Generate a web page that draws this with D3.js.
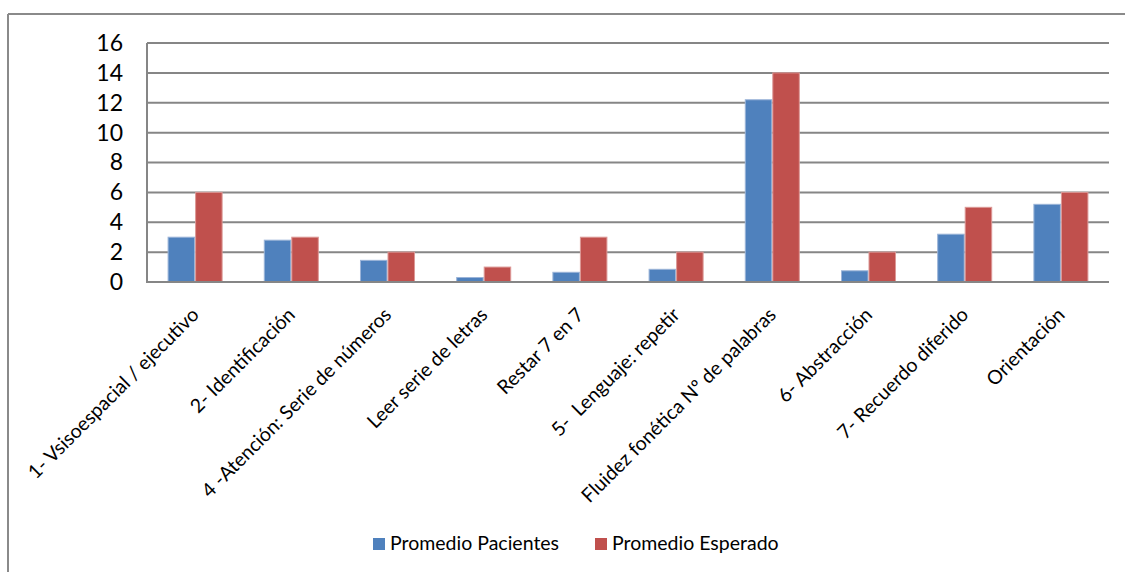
<!DOCTYPE html>
<html>
<head>
<meta charset="utf-8">
<script src="https://cdn.jsdelivr.net/npm/d3@7"></script>
<style>
  html, body { margin: 0; padding: 0; background: #fff; }
  svg { display: block; font-family: Lato, "Open Sans", sans-serif; }
</style>
</head>
<body>
<svg id="chart" width="1125" height="572"></svg>
<script>
// Subtest names of the cognitive assessment
const categories = [
  "1- Vsisoespacial / ejecutivo",
  "2- Identificación",
  "4 -Atención: Serie de números",
  "Leer serie de letras",
  "Restar 7 en 7",
  "5-  Lenguaje: repetir",
  "Fluidez fonética Nº de palabras",
  "6- Abstracción",
  "7- Recuerdo diferido",
  "Orientación"
];
const seriesNames = ["Promedio Pacientes", "Promedio Esperado"];
const pacientes = [3.0, 2.8, 1.45, 0.3, 0.65, 0.85, 12.2, 0.75, 3.2, 5.2];
const esperado  = [6, 3, 2, 1, 3, 2, 14, 2, 5, 6];
const yTicks = [0, 2, 4, 6, 8, 10, 12, 14, 16];
const colors = ["#4F81BD", "#C0504D"];

const svg = d3.select("#chart");

// Outer frame: top and left edges only
svg.append("line").attr("x1", 8).attr("x2", 1125).attr("y1", 14).attr("y2", 14)
  .attr("stroke", "#8a8a8a").attr("stroke-width", 2);
svg.append("line").attr("x1", 8).attr("x2", 8).attr("y1", 14).attr("y2", 572)
  .attr("stroke", "#8a8a8a").attr("stroke-width", 2);

const plot = { left: 147, right: 1109, top: 43, bottom: 282 };

const y = d3.scaleLinear().domain([0, 16]).range([plot.bottom, plot.top]);
const x0 = d3.scaleBand().domain(categories).range([plot.left, plot.right])
  .paddingInner(0.428).paddingOuter(0.214);
const x1 = d3.scaleBand().domain(seriesNames).range([0, x0.bandwidth()]);

// Horizontal gridlines
svg.append("g").selectAll("line").data(yTicks.filter(t => t > 0)).join("line")
  .attr("x1", plot.left).attr("x2", plot.right)
  .attr("y1", d => y(d)).attr("y2", d => y(d))
  .attr("stroke", "#868686").attr("stroke-width", 2);

// Y axis labels
const yAxis = d3.axisLeft(y).tickValues(yTicks).tickSize(0).tickPadding(0);
const gy = svg.append("g").attr("transform", `translate(${plot.left - 24},0)`).call(yAxis);
gy.select(".domain").remove();
gy.selectAll("text").attr("font-size", 23).attr("fill", "#000")
  .attr("font-family", "Lato, 'Open Sans', sans-serif");

// Bars
const rows = categories.map((c, i) => ({ cat: c, vals: [pacientes[i], esperado[i]] }));
const groups = svg.append("g").selectAll("g").data(rows).join("g")
  .attr("transform", d => `translate(${x0(d.cat)},0)`);
groups.selectAll("rect").data(d => d.vals.map((v, j) => ({ v, j })))
  .join("rect")
  .attr("x", d => x1(seriesNames[d.j]) + 0.5)
  .attr("y", d => y(d.v))
  .attr("width", x1.bandwidth() - 1)
  .attr("height", d => plot.bottom - y(d.v))
  .attr("fill", d => colors[d.j])
  .attr("stroke", d => d.j === 0 ? "#9bb4d8" : "#dc9896")
  .attr("stroke-width", 1);

// Plot area axis lines (left and bottom)
svg.append("line").attr("x1", plot.left).attr("x2", plot.left)
  .attr("y1", plot.top).attr("y2", plot.bottom)
  .attr("stroke", "#868686").attr("stroke-width", 2);
svg.append("line").attr("x1", plot.left - 1).attr("x2", plot.right)
  .attr("y1", plot.bottom).attr("y2", plot.bottom)
  .attr("stroke", "#868686").attr("stroke-width", 2);

// Rotated category labels
const xAxis = d3.axisBottom(x0).tickSize(0).tickPadding(0);
const gx = svg.append("g").attr("transform", `translate(0,${plot.bottom})`).call(xAxis);
gx.select(".domain").remove();
gx.selectAll("text")
  .attr("font-size", 19.5).attr("fill", "#000")
  .attr("font-family", "Lato, 'Open Sans', sans-serif")
  .style("white-space", "pre")
  .attr("text-anchor", "end")
  .attr("dy", 0)
  .attr("y", 0)
  .attr("transform", "translate(5,34) rotate(-45)");

// Legend
const legend = svg.append("g");
const legendX = [373, 595];
seriesNames.forEach((name, i) => {
  legend.append("rect").attr("x", legendX[i]).attr("y", 538)
    .attr("width", 12).attr("height", 12).attr("fill", colors[i]);
  legend.append("text").attr("x", legendX[i] + 17).attr("y", 550)
    .attr("font-size", 19.5).attr("fill", "#000").text(name);
});
</script>
</body>
</html>
